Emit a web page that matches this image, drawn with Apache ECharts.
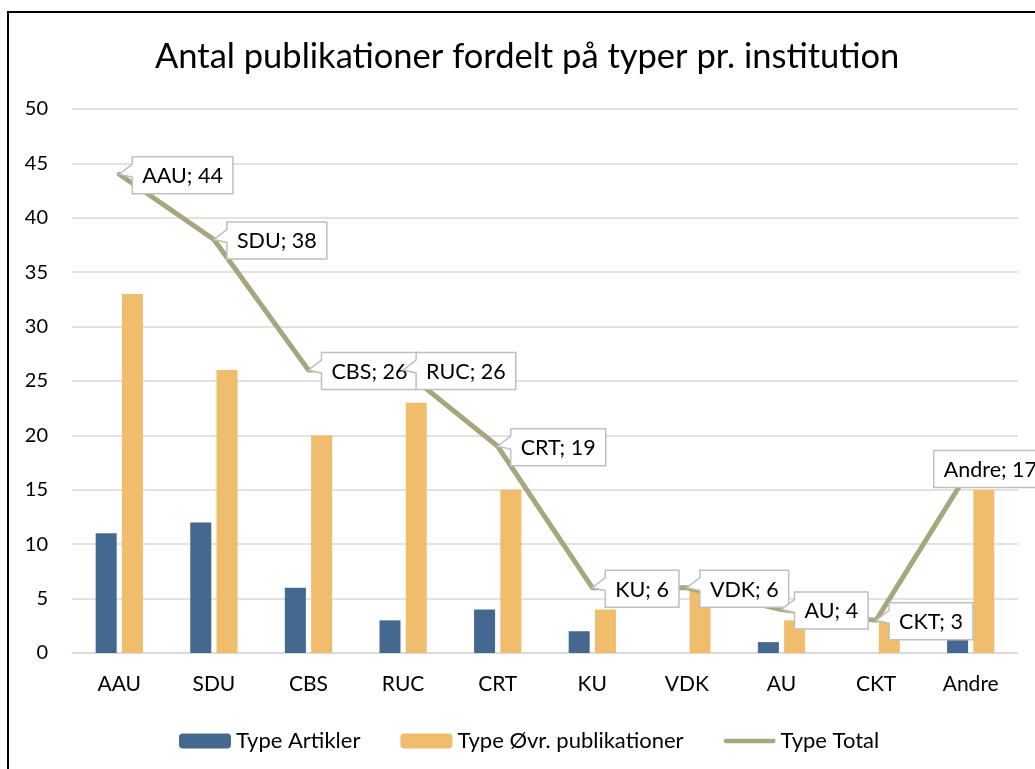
<!DOCTYPE html>
<html>
<head>
<meta charset="utf-8">
<script src="https://cdn.jsdelivr.net/npm/echarts@6/dist/echarts.min.js"></script>
<style>
html,body{margin:0;padding:0;background:#fff;}
#chart{width:1035px;height:769px;}
</style>
</head>
<body>
<div id="chart"></div>
<script>
const categories = ['AAU', 'SDU', 'CBS', 'RUC', 'CRT', 'KU', 'VDK', 'AU', 'CKT', 'Andre'];
const artikler = [11, 12, 6, 3, 4, 2, 0, 1, 0, 2];
const oevrige = [33, 26, 20, 23, 15, 4, 6, 3, 3, 15];
const total = [44, 38, 26, 26, 19, 6, 6, 4, 3, 17];
const seriesNames = ['Type Artikler', 'Type Øvr. publikationer', 'Type Total'];
const titleText = 'Antal publikationer fordelt på typer pr. institution';

const FONT = 'Lato, "Open Sans", sans-serif';
const labelFont = '21.5px ' + FONT;
const cv = document.createElement('canvas').getContext('2d');
cv.font = labelFont;
function tw(t) { return cv.measureText(t).width; }

const chart = echarts.init(document.getElementById('chart'), null, {renderer: 'canvas'});

function renderCallout(params, api) {
  const i = params.dataIndex;
  const pt = api.coord([api.value(0), api.value(1)]);
  const text = categories[i] + '; ' + total[i];
  const w = tw(text) + 20, h = 37;
  const last = i === categories.length - 1;
  const x0 = last ? pt[0] - 37 : pt[0] + 13;
  const y0 = pt[1] - h / 2 + 1;
  let points;
  if (last) {
    points = [[x0, y0], [x0 + w, y0], [x0 + w, y0 + h], [x0, y0 + h]];
  } else {
    points = [[x0, y0], [x0 + w, y0], [x0 + w, y0 + h], [x0, y0 + h],
              [x0, y0 + 0.55 * h], [pt[0], pt[1]], [x0, y0 + 0.2 * h]];
  }
  return {
    type: 'group',
    children: [
      {type: 'polygon', shape: {points: points},
       style: {fill: '#ffffff', stroke: '#bfbfbf', lineWidth: 1.5}},
      {type: 'text', style: {text: text, x: x0 + 10, y: y0 + h / 2 + 1,
       verticalAlign: 'middle', align: 'left', font: labelFont, fill: '#000'}}
    ]
  };
}

chart.setOption({
  backgroundColor: '#ffffff',
  animation: false,
  title: {
    text: titleText,
    left: 150,
    top: 34,
    textStyle: {fontFamily: FONT, fontSize: 34.5, fontWeight: 'normal', color: '#000'}
  },
  graphic: [{
    type: 'rect', shape: {x: 8, y: 12, width: 1200, height: 900},
    style: {fill: 'none', stroke: '#000', lineWidth: 2}, z: 100, silent: true
  }],
  legend: {
    data: [
      {name: seriesNames[0]},
      {name: seriesNames[1]},
      {name: seriesNames[2], icon: 'path://M0,0 Z M56,15 Z M2.5,5 L53.5,5 A2.5,2.5 0 0 1 53.5,10 L2.5,10 A2.5,2.5 0 0 1 2.5,5 Z'}
    ],
    left: 174,
    top: 725,
    itemWidth: 52,
    itemHeight: 15,
    itemGap: 40,
    textStyle: {fontFamily: FONT, fontSize: 22, color: '#000'}
  },
  grid: {left: 72, right: 17, top: 109, bottom: 116, containLabel: false},
  xAxis: {
    type: 'category',
    data: categories,
    axisLine: {show: true, lineStyle: {color: '#d9d9d9', width: 1.5}},
    axisTick: {show: false},
    axisLabel: {fontFamily: FONT, fontSize: 21, color: '#000', margin: 21}
  },
  yAxis: {
    type: 'value',
    min: 0, max: 50, interval: 5,
    axisLine: {show: false},
    axisTick: {show: false},
    splitLine: {lineStyle: {color: '#d9d9d9', width: 1.5}},
    axisLabel: {fontFamily: FONT, fontSize: 20, color: '#000', margin: 24}
  },
  series: [
    {name: seriesNames[0], type: 'bar', data: artikler, barWidth: 21, barGap: '25%',
     itemStyle: {color: '#44688f'}, z: 2},
    {name: seriesNames[1], type: 'bar', data: oevrige, barWidth: 21,
     itemStyle: {color: '#efbd6c'}, z: 2},
    {name: seriesNames[2], type: 'line', data: total, symbol: 'none', showSymbol: false,
     lineStyle: {color: '#a8a67e', width: 5, cap: 'round', join: 'round'},
     itemStyle: {color: '#a8a67e'}, z: 3},
    {name: 'callouts', type: 'custom', renderItem: renderCallout, clip: false,
     data: categories.map(function (c, i) { return [i, total[i]]; }),
     encode: {x: 0, y: 1}, z: 4, silent: true}
  ]
});
</script>
</body>
</html>
